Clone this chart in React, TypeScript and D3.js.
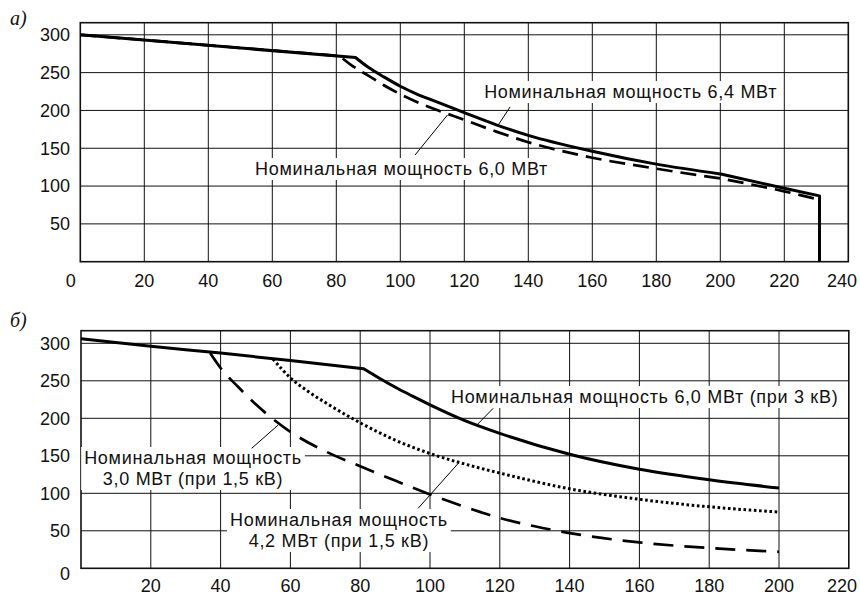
import React, { useEffect, useRef } from 'react';
import * as d3 from 'd3';

// ---------- tick labels ----------
const topXTicks = [0, 20, 40, 60, 80, 100, 120, 140, 160, 180, 200, 220, 240];
const topYTicks = [50, 100, 150, 200, 250, 300];
const botXTicks = [20, 40, 60, 80, 100, 120, 140, 160, 180, 200, 220];
const botYTicks = [0, 50, 100, 150, 200, 250, 300];

// ---------- panel a) ----------
const topP64X = [0, 86, 90, 95, 100, 105, 110, 120, 130, 140, 160, 180, 200, 220, 231, 231];
const topP64Y = [300, 270, 257, 244, 232, 222, 213.5, 197, 181, 167, 146, 129, 116, 97, 87, 0];
const topP64Breaks = [1, 12, 14];

const topP60X = [0, 81, 85, 90, 95, 100, 105, 110, 120, 130, 140, 160, 180, 200, 220, 231];
const topP60Y = [300, 272, 259, 246, 233, 221.5, 211.5, 203, 187.5, 172, 158, 137.5, 123, 110, 93, 82];
const topP60Breaks = [1, 13];

// ---------- panel б) ----------
const botP60X = [0, 20, 40, 60, 81, 86, 91, 95, 100, 110, 120, 140, 160, 180, 200];
const botP60Y = [306, 296, 287, 277, 266, 252, 239, 229.5, 218, 197, 180, 152, 132, 118, 107];
const botP60Breaks = [4];

const botP42X = [55, 60, 65, 70, 80, 90, 100, 110, 120, 140, 160, 180, 200];
const botP42Y = [279, 254, 236, 221, 194, 171, 153, 139, 127, 106, 92, 82, 75];
const botP42Breaks: number[] = [];

const botP30X = [37, 40, 45, 50, 55, 60, 70, 80, 90, 100, 110, 120, 130, 140, 160, 180, 200];
const botP30Y = [287, 267, 242, 219, 199, 182, 156, 136, 117, 98.5, 82, 67, 56, 47, 34.5, 27, 22];
const botP30Breaks: number[] = [];

const labelTop64 = ['Номинальная мощность 6,4 МВт'];
const labelTop60 = ['Номинальная мощность 6,0 МВт'];
const labelBot60 = ['Номинальная мощность 6,0 МВт (при 3 кВ)'];
const labelBot30 = ['Номинальная мощность', '3,0 МВт (при 1,5 кВ)'];
const labelBot42 = ['Номинальная мощность', '4,2 МВт (при 1,5 кВ)'];

const FONT = "'Liberation Sans', Arial, Helvetica, sans-serif";
const SERIF = "'Liberation Serif', 'Times New Roman', serif";

function buildPath(
  xs: number[],
  ys: number[],
  breaks: number[],
  x: d3.ScaleLinear<number, number>,
  y: d3.ScaleLinear<number, number>
) {
  const pts = xs.map((v, i) => [v, ys[i]] as [number, number]);
  const idx = [0, ...breaks, pts.length - 1];
  const gen = d3
    .line<[number, number]>()
    .x((d) => x(d[0]))
    .y((d) => y(d[1]))
    .curve(d3.curveMonotoneX);
  let out = '';
  for (let k = 0; k < idx.length - 1; k++) {
    const seg = pts.slice(idx[k], idx[k + 1] + 1);
    if (seg.length < 2) continue;
    const p = gen(seg) || '';
    out += k === 0 ? p : p.replace(/^M/, 'L');
  }
  return out;
}

export default function App() {
  const ref = useRef<SVGSVGElement>(null);

  useEffect(() => {
    const svg = d3.select(ref.current);
    svg.selectAll('*').remove();

    const panels = [
      {
        name: 'а)',
        nameY: 25,
        left: 80.3,
        right: 848.3,
        top: 22.7,
        bottom: 261.7,
        xMax: 240,
        yMax: 316,
        xTicks: topXTicks,
        yTicks: topYTicks,
        xLabelY: 286.5,
        dash: '16 8',
        series: [
          { xs: topP60X, ys: topP60Y, br: topP60Breaks, style: 'dash' },
          { xs: topP64X, ys: topP64Y, br: topP64Breaks, style: 'solid' },
        ],
        notes: [
          { lines: labelTop64, anchor: 'start', xv: 126.2, yv: 216.4, leader: [134.3, 204.5, 130.5, 180] },
          { lines: labelTop60, anchor: 'start', xv: 54.6, yv: 114.6, leader: [104.6, 141, 114.75, 194] },
        ],
      },
      {
        name: 'б)',
        nameY: 327,
        left: 81,
        right: 848.8,
        top: 330.7,
        bottom: 568.3,
        xMax: 220,
        yMax: 316.8,
        xTicks: botXTicks,
        yTicks: botYTicks,
        xLabelY: 591.5,
        dash: '20 11',
        series: [
          { xs: botP30X, ys: botP30Y, br: botP30Breaks, style: 'dash' },
          { xs: botP42X, ys: botP42Y, br: botP42Breaks, style: 'dot' },
          { xs: botP60X, ys: botP60Y, br: botP60Breaks, style: 'solid' },
        ],
        notes: [
          { lines: labelBot60, anchor: 'start', xv: 106, yv: 220.4, leader: [118.1, 213.3, 113.4, 191] },
          { lines: labelBot30, anchor: 'middle', xv: 32.1, yv: 139, leader: [48.9, 160, 56.5, 191] },
          { lines: labelBot42, anchor: 'middle', xv: 73.9, yv: 56.4, leader: [96.6, 80, 108.1, 140] },
        ],
      },
    ];

    panels.forEach((P) => {
      const x = d3.scaleLinear().domain([0, P.xMax]).range([P.left, P.right]);
      const y = d3.scaleLinear().domain([0, P.yMax]).range([P.bottom, P.top]);
      const g = svg.append('g');

      const grid = g.append('g').attr('stroke', '#111').attr('stroke-width', 1);
      const xs = d3.range(0, P.xMax + 1, 20).filter((v) => v > 0 && v < P.xMax);
      grid
        .selectAll('line.v')
        .data(xs)
        .join('line')
        .attr('x1', (d) => x(d))
        .attr('x2', (d) => x(d))
        .attr('y1', P.top)
        .attr('y2', P.bottom);
      grid
        .selectAll('line.h')
        .data(P.yTicks.filter((v) => v > 0))
        .join('line')
        .attr('class', 'h')
        .attr('x1', P.left)
        .attr('x2', P.right)
        .attr('y1', (d) => y(d))
        .attr('y2', (d) => y(d));

      g.append('rect')
        .attr('x', P.left)
        .attr('y', P.top)
        .attr('width', P.right - P.left)
        .attr('height', P.bottom - P.top)
        .attr('fill', 'none')
        .attr('stroke', '#111')
        .attr('stroke-width', 1.6);

      // ticks
      const tk = g.append('g').attr('font-family', FONT).attr('font-size', 18).attr('fill', '#111');
      P.yTicks.forEach((v) => {
        tk.append('text')
          .attr('x', 70)
          .attr('y', y(v) + (v === 0 ? 11.7 : 6.3))
          .attr('text-anchor', 'end')
          .text(String(v));
      });
      P.xTicks.forEach((v, i) => {
        const last = i === P.xTicks.length - 1;
        const t = tk
          .append('text')
          .attr('y', P.xLabelY)
          .text(String(v));
        if (last) t.attr('x', 857).attr('text-anchor', 'end');
        else if (v === 0) t.attr('x', x(v) - 9.5).attr('text-anchor', 'middle');
        else t.attr('x', x(v)).attr('text-anchor', 'middle');
      });

      // panel name
      g.append('text')
        .attr('x', 10)
        .attr('y', P.nameY)
        .attr('font-family', SERIF)
        .attr('font-style', 'italic')
        .attr('font-size', 20)
        .attr('fill', '#111')
        .text(P.name);

      const boxes = g.append('g');
      const curves = g.append('g').attr('fill', 'none').attr('stroke', '#000');
      const leaders = g.append('g').attr('stroke', '#000').attr('stroke-width', 1);
      const labels = g
        .append('g')
        .attr('font-family', FONT)
        .attr('font-size', 18)
        .attr('letter-spacing', 0.7)
        .attr('fill', '#111');

      P.series.forEach((s) => {
        const p = curves.append('path').attr('d', buildPath(s.xs, s.ys, s.br, x, y));
        if (s.style === 'solid') p.attr('stroke-width', 3).attr('stroke-linejoin', 'round');
        else if (s.style === 'dash') p.attr('stroke-width', 2.7).attr('stroke-dasharray', P.dash);
        else p.attr('stroke-width', 3).attr('stroke-dasharray', '2.6 2.6');
      });

      P.notes.forEach((n) => {
        const tg = labels.append('g');
        n.lines.forEach((ln, i) => {
          tg.append('text')
            .attr('x', x(n.xv))
            .attr('y', y(n.yv) + i * 21)
            .attr('text-anchor', n.anchor)
            .text(ln);
        });
        const bb = (tg.node() as SVGGElement).getBBox();
        boxes
          .append('rect')
          .attr('x', bb.x - 3)
          .attr('y', bb.y - 1)
          .attr('width', bb.width + 6)
          .attr('height', bb.height + 2)
          .attr('fill', '#fff');
        const [a, b, c, d] = n.leader;
        leaders
          .append('line')
          .attr('x1', x(a))
          .attr('y1', y(b))
          .attr('x2', x(c))
          .attr('y2', y(d));
      });
    });
  }, []);

  return (
    <svg
      ref={ref}
      width={860}
      height={594}
      style={{ position: 'absolute', left: 0, top: 0, background: '#fff', display: 'block' }}
    />
  );
}
